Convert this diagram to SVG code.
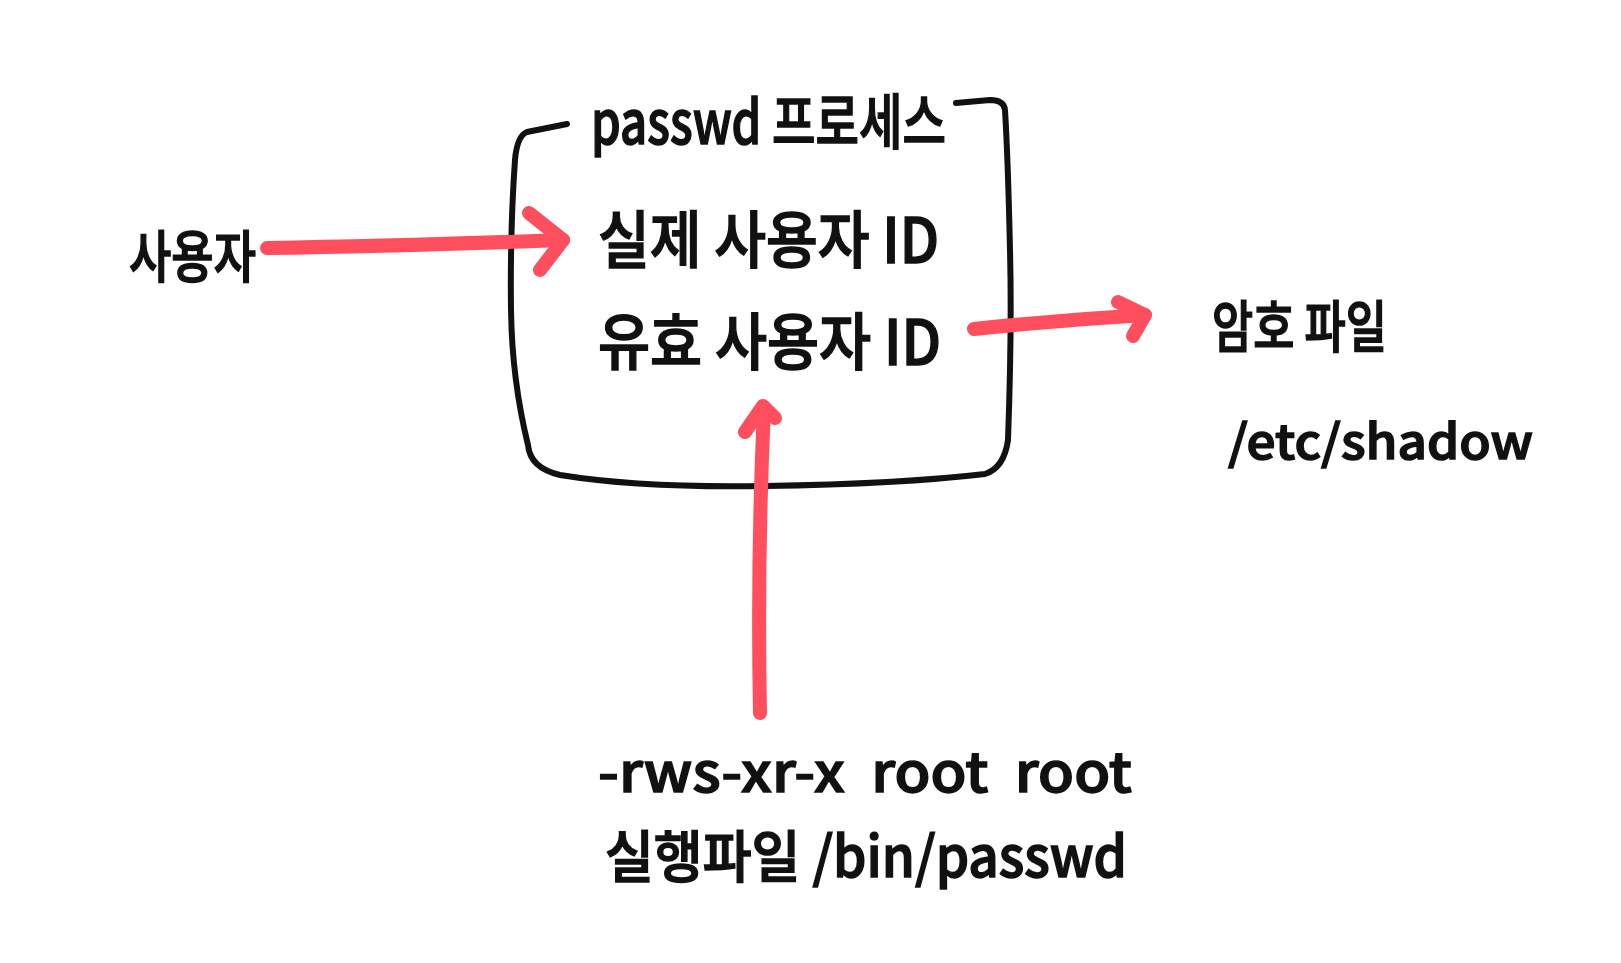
<svg xmlns="http://www.w3.org/2000/svg" width="1621" height="963" viewBox="0 0 1621 963">
<defs>
<style>
.t{font-family:"Noto Sans CJK KR","Noto Sans",sans-serif;font-weight:500;fill:#111;stroke:#111;stroke-width:1.5;dominant-baseline:central;white-space:pre}
.box{fill:none;stroke:#111;stroke-width:6;stroke-linecap:round;stroke-linejoin:round}
.arr{fill:none;stroke:#FF4F5E;stroke-width:14;stroke-linecap:round;stroke-linejoin:round}
</style>
</defs>
<rect width="1621" height="963" fill="#fff"/>
<g id="process">
<path class="box" d="M567,124 L527,132 Q517,136 515,160 Q510,230 511,310 Q512,380 528,445 Q530,468 560,475 Q640,488 765,486 Q900,484 985,474 Q1004,468 1008,440 Q1012,330 1010,250 Q1008,160 1005,110 Q1004,100 990,100 L956,103"/>
<text class="t" x="591" y="117" font-size="60" textLength="355" lengthAdjust="spacingAndGlyphs">passwd 프로세스</text>
<text class="t" x="598" y="236" font-size="62" textLength="341" lengthAdjust="spacingAndGlyphs">실제 사용자 ID</text>
<text class="t" x="598" y="338" font-size="62" textLength="343" lengthAdjust="spacingAndGlyphs">유효 사용자 ID</text>
</g>
<g id="user">
<text class="t" x="129" y="252" font-size="56" textLength="127" lengthAdjust="spacingAndGlyphs">사용자</text>
</g>
<g id="shadow">
<text class="t" x="1212" y="322" font-size="56" textLength="175" lengthAdjust="spacingAndGlyphs">암호 파일</text>
<text class="t" x="1228" y="438" font-size="48" textLength="305" lengthAdjust="spacingAndGlyphs">/etc/shadow</text>
</g>
<g id="binary">
<text class="t" x="598" y="768" font-size="54" textLength="534" lengthAdjust="spacingAndGlyphs">-rws-xr-x  root  root</text>
<text class="t" x="605" y="852" font-size="56" textLength="522" lengthAdjust="spacingAndGlyphs">실행파일 /bin/passwd</text>
</g>
<g id="connectors">
<path class="arr" d="M267,248 Q400,246 563,240"/>
<path class="arr" d="M529,213 L563,240 L540,270"/>
<path class="arr" d="M974,329 Q1060,320 1145,315"/>
<path class="arr" d="M1118,302 L1145,315 L1133,336"/>
<path class="arr" d="M760,713 Q757,560 764,408"/>
<path class="arr" d="M745,432 L763,406 L775,418"/>
</g>
</svg>
